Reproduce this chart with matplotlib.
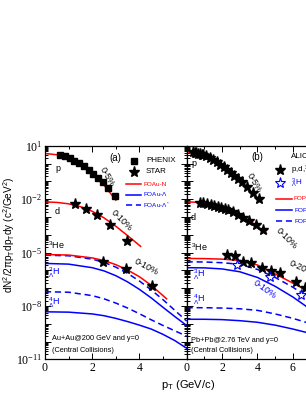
import numpy as np
import matplotlib
matplotlib.use("Agg")
import matplotlib.pyplot as plt
from matplotlib.ticker import LogLocator, MultipleLocator, FuncFormatter, NullFormatter

plt.rcParams['font.family'] = ['Liberation Sans', 'DejaVu Sans']
plt.rcParams['mathtext.default'] = 'regular'

# ---- Au+Au @ 200 GeV (panel a), values as log10(yield) ----
pt_p_a = [0, 0.5, 1.0, 1.5, 2.0, 2.5, 3.0]
fo_p_a = [0.57, 0.50, 0.31, -0.05, -0.55, -1.21, -2.05]
phenix_pt = [0.65, 0.85, 1.05, 1.25, 1.45, 1.65, 1.85, 2.05, 2.25, 2.45, 2.65, 2.95]
phenix_p = [0.47, 0.41, 0.30, 0.17, 0.02, -0.15, -0.35, -0.56, -0.78, -1.05, -1.35, -1.8]

pt_d_a = [0, 0.5, 1.0, 1.5, 2.0, 2.5, 3.0, 3.5, 4.05]
fo_d_a = [-2.15, -2.18, -2.26, -2.42, -2.68, -3.05, -3.52, -4.05, -4.65]
star_d_pt = [1.26, 1.75, 2.2, 2.74, 3.47]
star_d = [-2.28, -2.57, -2.89, -3.45, -4.34]

pt_he_a = [0, 1, 2, 2.5, 3, 3.5, 4, 4.5, 5.15]
fo_he_a = [-5.11, -5.14, -5.3, -5.45, -5.68, -5.98, -6.36, -6.84, -7.6]
star_he_pt = [2.45, 3.44, 4.53]
star_he = [-5.52, -5.94, -6.87]

pt_hyp_a = [0, 1, 2, 2.5, 3, 3.5, 4, 4.5, 5, 5.5, 6]
h3_star_a = [-5.15, -5.18, -5.37, -5.55, -5.82, -6.17, -6.6, -7.1, -7.65, -8.25, -8.85]
h3_a = [-5.61, -5.65, -5.85, -6.03, -6.3, -6.65, -7.07, -7.55, -8.08, -8.6, -9.1]
h4_star_a = [-7.2, -7.23, -7.42, -7.6, -7.84, -8.12, -8.44, -8.78, -9.1, -9.4, -9.7]
h4_a = [-8.33, -8.35, -8.45, -8.55, -8.7, -8.88, -9.08, -9.3, -9.6, -9.95, -10.38]

# ---- Pb+Pb @ 2.76 TeV (panel b) ----
pt_p_b = [0, 0.5, 1, 1.5, 2, 2.5, 3, 3.5, 4, 4.2]
fo_p_b = [0.66, 0.6, 0.45, 0.2, -0.13, -0.5, -0.95, -1.42, -1.9, -2.1]
alice_p_pt = [0.35, 0.45, 0.55, 0.65, 0.75, 0.85, 0.95, 1.1, 1.3, 1.5, 1.7, 1.9, 2.1,
              2.3, 2.5, 2.7, 2.9, 3.1, 3.4, 3.75, 4.1]
alice_p = [0.63, 0.61, 0.59, 0.56, 0.53, 0.5, 0.47, 0.41, 0.31, 0.2, 0.08, -0.06, -0.2,
           -0.35, -0.5, -0.67, -0.86, -1.04, -1.32, -1.65, -2.0]

pt_d_b = [0, 0.5, 1, 1.5, 2, 2.5, 3, 3.5, 4, 4.5]
fo_d_b = [-2.15, -2.17, -2.24, -2.36, -2.5, -2.68, -2.9, -3.18, -3.52, -3.92]
alice_d_pt = [0.75, 0.95, 1.15, 1.35, 1.55, 1.75, 1.95, 2.15, 2.35, 2.6, 2.9, 3.2, 3.5, 3.9, 4.3]
alice_d = [-2.19, -2.23, -2.27, -2.32, -2.37, -2.43, -2.49, -2.55, -2.62, -2.72, -2.86,
           -3.03, -3.2, -3.45, -3.74]

pt_b = [0, 1, 2, 3, 4, 5, 6, 7, 8]
fo_he_b = [-5.33, -5.34, -5.37, -5.44, -5.7, -6.2, -6.72, -7.25, -7.9]
alice_he_pt = [2.25, 2.72, 3.2, 3.66, 4.23, 4.79, 5.26, 6.2, 6.67]
alice_he = [-5.14, -5.2, -5.52, -5.57, -5.85, -6.02, -6.17, -6.64, -7.01]
alice_h3_pt = [2.82, 4.72, 6.48]
alice_h3 = [-5.7, -6.36, -7.39]
h3_star_b = [-5.52, -5.53, -5.57, -5.66, -5.95, -6.4, -6.95, -7.6, -8.3]
h3_b = [-5.85, -5.86, -5.92, -6.08, -6.4, -6.9, -7.5, -8.2, -8.9]
h4_star_b = [-8.1, -8.1, -8.12, -8.16, -8.25, -8.45, -8.7, -9.0, -9.35]
h4_b = [-8.75, -8.75, -8.77, -8.83, -8.92, -9.08, -9.3, -9.55, -9.85]

RED = '#ff0000'
BLUE = '#0000ff'
serif = 'Liberation Serif'


def p10(v):
    return 10 ** np.asarray(v, dtype=float)


def yfmt(v, pos):
    e = int(round(np.log10(v)))
    if (1 - e) % 3 == 0:
        return r'$10^{%d}$' % e
    return ''


fig = plt.figure(figsize=(3.06, 3.96), dpi=100)
ax1 = fig.add_axes([0.147, 0.0927, 0.463, 0.539])
ax2 = fig.add_axes([0.610, 0.0927, 0.463, 0.539])

for ax, xmax in ((ax1, 6), (ax2, 8)):
    ax.set_yscale('log')
    ax.set_ylim(1e-11, 10)
    ax.set_xlim(0, xmax)
    ax.yaxis.set_major_locator(LogLocator(base=10, numticks=20))
    ax.yaxis.set_minor_locator(LogLocator(base=10, subs=np.arange(2, 10), numticks=20))
    ax.yaxis.set_minor_formatter(NullFormatter())
    ax.xaxis.set_major_locator(MultipleLocator(2))
    ax.xaxis.set_minor_locator(MultipleLocator(1))
    ax.tick_params(which='both', direction='in', top=True, right=True, width=0.7)
    ax.tick_params(which='major', length=4)
    ax.tick_params(which='minor', length=2)
    for s in ax.spines.values():
        s.set_linewidth(0.9)

ax1.yaxis.set_major_formatter(FuncFormatter(yfmt))
ax1.xaxis.set_major_formatter(FuncFormatter(lambda v, p: '%d' % v if v < 5 else ''))
ax2.yaxis.set_major_formatter(NullFormatter())
ax2.xaxis.set_major_formatter(FuncFormatter(lambda v, p: '%d' % v))
for ax in (ax1, ax2):
    ax.tick_params(axis='both', labelsize=8.5, pad=2)
    for lab in ax.get_xticklabels() + ax.get_yticklabels():
        lab.set_fontfamily(serif)

lw = 1.1
ms_star = 8
# panel (a)
ax1.plot(pt_p_a, p10(fo_p_a), color=RED, lw=lw)
ax1.plot(phenix_pt, p10(phenix_p), 's', color='k', ms=4)
ax1.plot(pt_d_a, p10(fo_d_a), color=RED, lw=lw)
ax1.plot(star_d_pt, p10(star_d), '*', color='k', ms=ms_star)
ax1.plot(pt_hyp_a, p10(h3_star_a), '--', color=BLUE, lw=lw, dashes=(4, 2.5))
ax1.plot(pt_hyp_a, p10(h3_a), color=BLUE, lw=lw)
ax1.plot(pt_he_a, p10(fo_he_a), color=RED, lw=lw)
ax1.plot(star_he_pt, p10(star_he), '*', color='k', ms=ms_star)
ax1.plot(pt_hyp_a, p10(h4_star_a), '--', color=BLUE, lw=lw, dashes=(4, 2.5))
ax1.plot(pt_hyp_a, p10(h4_a), color=BLUE, lw=lw)

# panel (b)
ax2.plot(pt_p_b, p10(fo_p_b), color=RED, lw=lw)
ax2.plot(alice_p_pt, p10(alice_p), '*', color='k', ms=ms_star)
ax2.plot(pt_d_b, p10(fo_d_b), color=RED, lw=lw)
ax2.plot(alice_d_pt, p10(alice_d), '*', color='k', ms=ms_star)
ax2.plot(pt_b, p10(h3_star_b), '--', color=BLUE, lw=lw, dashes=(4, 2.5))
ax2.plot(pt_b, p10(h3_b), color=BLUE, lw=lw)
ax2.plot(pt_b, p10(fo_he_b), color=RED, lw=lw)
ax2.plot(alice_he_pt, p10(alice_he), '*', color='k', ms=ms_star)
ax2.plot(alice_h3_pt, p10(alice_h3), '*', color=BLUE, mfc='white', ms=ms_star, mew=0.8)
ax2.plot(pt_b, p10(h4_star_b), '--', color=BLUE, lw=lw, dashes=(4, 2.5))
ax2.plot(pt_b, p10(h4_b), color=BLUE, lw=lw)

# text helpers in figure pixels (origin top-left)
W, H = 306.0, 396.0


def ftext(x, y, s, **kw):
    fig.text(x / W, 1 - y / H, s, **kw)


fs = 6.5
# panel (a) labels
ftext(55, 168, 'p', fontsize=fs, va='center')
ftext(55, 212, 'd', fontsize=fs, va='center')
ftext(48, 245, r'$^3$He', fontsize=fs, va='center')
ftext(48, 273, r'$^3_\Lambda$H', fontsize=fs, va='center', color=BLUE)
ftext(48, 303, r'$^4_\Lambda$H', fontsize=fs, va='center', color=BLUE)
ftext(107, 177, '0-5%', fontsize=fs, rotation=-60, ha='center', va='center')
ftext(122, 220, '0-10%', fontsize=fs, rotation=-45, ha='center', va='center')
ftext(146, 267, '0-10%', fontsize=fs, rotation=-28, ha='center', va='center')
ftext(115, 158, '(a)', fontsize=7, ha='center', va='center')
ftext(52, 338, 'Au+Au@200 GeV and y=0', fontsize=5.3, va='center')
ftext(52, 350, '(Central Collisions)', fontsize=5.3, va='center')

# panel (a) legend
fig.add_artist(plt.Line2D([134 / W], [1 - 160.5 / H], marker='s', color='k', ms=4))
fig.add_artist(plt.Line2D([134 / W], [1 - 171.5 / H], marker='*', color='k', ms=ms_star))
ftext(146, 160.5, 'PHENIX', fontsize=5.8, va='center')
ftext(146, 171.5, 'STAR', fontsize=5.8, va='center')
for yy, ls, lab, c in ((184, '-', 'FOAu-N', RED), (194.5, '-', r'FOAu-$\Lambda$', BLUE),
                       (205, '--', r'FOAu-$\Lambda^*$', BLUE)):
    fig.add_artist(plt.Line2D([126 / W, 141 / W], [1 - yy / H] * 2, color=c, lw=lw,
                              ls=ls, dashes=(4, 2.5) if ls == '--' else (None, None)))
    ftext(143, yy, lab, fontsize=4.6, va='center', color=c)

# panel (b) labels
ftext(191, 164, 'p', fontsize=fs, va='center')
ftext(191, 217, 'd', fontsize=fs, va='center')
ftext(191, 247, r'$^3$He', fontsize=fs, va='center')
ftext(193, 275, r'$^3_\Lambda$H', fontsize=fs, va='center', color=BLUE)
ftext(193, 300, r'$^4_\Lambda$H', fontsize=fs, va='center', color=BLUE)
ftext(254, 183, '0-5%', fontsize=fs, rotation=-60, ha='center', va='center')
ftext(287, 238, '0-10%', fontsize=fs, rotation=-45, ha='center', va='center')
ftext(302, 268, '0-20%', fontsize=fs, rotation=-25, ha='center', va='center')
ftext(265, 289, '0-10%', fontsize=fs, rotation=-35, ha='center', va='center', color=BLUE)
ftext(257, 157, '(b)', fontsize=7, ha='center', va='center')
ftext(191, 340, 'Pb+Pb@2.76 TeV and y=0', fontsize=5.3, va='center')
ftext(191, 351, '(Central Collisions)', fontsize=5.3, va='center')

# panel (b) legend
ftext(291, 156, 'ALICE', fontsize=5.8, va='center')
fig.add_artist(plt.Line2D([280 / W], [1 - 170 / H], marker='*', color='k', ms=ms_star))
fig.add_artist(plt.Line2D([280 / W], [1 - 183 / H], marker='*', color=BLUE, mfc='white',
                          ms=ms_star, mew=0.8))
ftext(291, 170, r'p,d,$^3$He', fontsize=5.8, va='center')
ftext(291, 183, r'$^3_\Lambda$H', fontsize=5.8, va='center', color=BLUE)
for yy, ls, lab, c in ((199, '-', 'FOPb-N', RED), (210, '-', r'FOPb-$\Lambda$', BLUE),
                       (221, '--', r'FOPb-$\Lambda^*$', BLUE)):
    fig.add_artist(plt.Line2D([276 / W, 292 / W], [1 - yy / H] * 2, color=c, lw=lw,
                              ls=ls, dashes=(4, 2.5) if ls == '--' else (None, None)))
    ftext(294, yy, lab, fontsize=4.6, va='center', color=c)

# axis titles
ftext(9, 235, r'dN$^2$/2$\pi$p$_T$dp$_T$dy (c$^2$/GeV$^2$)', fontsize=7.2, rotation=90,
      ha='center', va='center')
ftext(188, 385, r'p$_T$ (GeV/c)', fontsize=8, ha='center', va='center')

fig.savefig('out.png', dpi=100)
